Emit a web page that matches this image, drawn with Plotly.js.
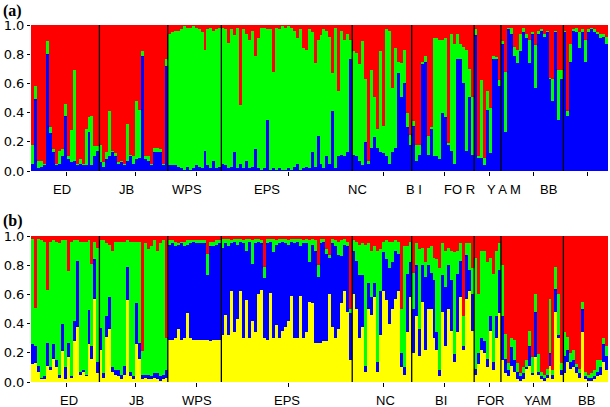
<!DOCTYPE html>
<html><head><meta charset="utf-8">
<script src="https://cdn.plot.ly/plotly-3.0.1.min.js"></script>
<style>html,body{margin:0;padding:0;background:#fff}#chart{width:610px;height:407px}</style>
</head><body><div id="chart"></div>
<script>
// Populations (order along the x axis) and number of individuals in each
const popNames = ['ED','JB','WPS','EPS','NC','BI','FOR','YAM','BB'];
const popSizes = [23,23,18,44,20,21,9,21,15];
const popLabelsA = ['ED','JB','WPS','EPS','NC','B I','FO R','Y A M','BB'];
const popLabelsB = ['ED','JB','WPS','EPS','NC','BI','FOR','YAM','BB'];
const yTickVals = [0,0.2,0.4,0.6,0.8,1.0];
const yTickText = ['0.0','0.2','0.4','0.6','0.8','1.0'];

// Panel (a): K = 3 membership coefficients per individual
const aBlue = [
 .05,.49,.02,.03,.04,.80,.26,.13,.04,.05,.10,.38,.08,.06,.07,.04,.05,.04,.04,.27,.04,.10,.14,
 .06,.03,.08,.10,.13,.10,.05,.06,.04,.07,.10,.05,.08,.09,.79,.08,.07,.04,.13,.13,.13,.04,.72,
 .04,.04,.04,.03,.02,.01,.03,.01,.02,.04,.03,.02,.14,.04,.02,.07,.02,.03,
 .05,.04,.02,.03,.13,.02,.05,.02,.07,.02,.03,.15,.02,.01,.02,.35,.01,.02,.01,.02,.01,.01,.02,.01,.03,.05,.01,.02,.03,.02,.13,.03,.24,.05,.02,.10,.05,.41,.02,.10,.11,.10,.13,.77,
 .11,.10,.07,.04,.20,.05,.16,.23,.16,.13,.12,.10,.05,.13,.16,.67,.51,.60,.30,.18,
 .31,.07,.11,.73,.75,.11,.29,.10,.10,.08,.40,.37,.18,.14,.05,.77,.77,.60,.14,.51,.11,
 .93,.09,.09,.04,.42,.12,.77,.77,.58,
 .87,.27,.97,.94,.79,.74,.82,.95,.91,.74,.94,.57,.94,.96,.92,.95,.63,.48,.95,.35,.63,
 .95,.38,.75,.96,.95,.84,.95,.75,.95,.97,.95,.94,.91,.92,.87
];
const aGreen = [
 .13,.09,.05,.04,.01,.09,.04,.02,.01,.09,.05,.08,.02,.22,.62,.01,.03,.01,.25,.10,.34,.07,.03,
 .12,.03,.05,.31,.01,.02,.01,.01,.01,.25,.01,.05,.40,.33,.03,.02,.03,.01,.03,.03,.02,.01,.05,
 .90,.91,.92,.93,.95,.98,.95,.97,.97,.94,.94,.93,.69,.93,.96,.89,.95,.95,
 .93,.93,.86,.94,.80,.96,.40,.95,.87,.88,.93,.64,.89,.97,.96,.62,.96,.66,.97,.95,.98,.97,.97,.97,.93,.86,.96,.82,.80,.95,.82,.71,.66,.88,.95,.86,.87,.26,.96,.45,.85,.80,.81,.13,
 .71,.71,.66,.85,.43,.02,.53,.28,.13,.69,.19,.87,.91,.44,.68,.08,.23,.23,.10,.07,
 .03,.11,.07,.02,.04,.13,.01,.81,.81,.82,.50,.54,.01,.80,.82,.17,.10,.25,.69,.19,.40,
 .04,.01,.53,.05,.13,.31,.02,.01,.04,
 .02,.41,.01,.04,.06,.09,.12,.03,.03,.16,.01,.29,.02,.01,.02,.01,.01,.15,.01,.34,.06,
 .01,.03,.12,.01,.03,.11,.02,.15,.02,.01,.02,.01,.03,.02,.05
];
const aRed = [
 .82,.42,.93,.93,.95,.11,.70,.85,.95,.86,.85,.54,.90,.72,.31,.95,.92,.95,.71,.63,.62,.83,.83,
 .82,.94,.87,.59,.86,.88,.94,.93,.95,.68,.89,.90,.52,.58,.18,.90,.90,.95,.84,.84,.85,.95,.23,
 .06,.05,.04,.04,.03,.01,.02,.02,.01,.02,.03,.05,.17,.03,.02,.04,.03,.02,
 .02,.03,.12,.03,.07,.02,.55,.03,.06,.10,.04,.21,.09,.02,.02,.03,.03,.32,.02,.03,.01,.02,.01,.02,.04,.09,.03,.16,.17,.03,.05,.26,.10,.07,.03,.04,.08,.33,.02,.45,.04,.10,.06,.10,
 .18,.19,.27,.11,.37,.93,.31,.49,.71,.18,.69,.03,.04,.43,.16,.25,.26,.17,.60,.75,
 .66,.82,.82,.25,.21,.76,.70,.09,.09,.10,.10,.09,.81,.06,.13,.06,.13,.15,.17,.30,.49,
 .03,.90,.38,.91,.45,.57,.21,.22,.38,
 .11,.32,.02,.02,.15,.17,.06,.02,.06,.10,.05,.14,.04,.03,.06,.04,.36,.37,.04,.31,.31,
 .04,.59,.13,.03,.02,.05,.03,.10,.03,.02,.03,.05,.06,.06,.08
];

// Panel (b): K = 4 membership coefficients per individual
const bYellow = [
 .12,.13,.07,.02,.02,.11,.08,.16,.10,.03,.21,.02,.17,.03,.28,.38,.05,.07,.04,.26,.16,.57,.06,
 .22,.03,.31,.36,.07,.05,.04,.02,.05,.56,.04,.02,.26,.16,.02,.03,.02,.02,.03,.02,.01,.02,.03,
 .29,.29,.30,.36,.29,.30,.47,.30,.29,.29,.29,.29,.29,.29,.28,.29,.29,.29,
 .32,.46,.32,.62,.34,.43,.62,.30,.56,.30,.42,.34,.60,.63,.30,.29,.61,.30,.39,.30,.35,.38,.42,.59,.30,.30,.59,.30,.34,.55,.54,.27,.27,.27,.28,.28,.60,.38,.30,.36,.54,.62,.48,.15,
 .60,.50,.30,.38,.07,.50,.46,.58,.07,.32,.62,.56,.40,.50,.57,.62,.10,.05,.34,.58,
 .20,.45,.18,.55,.22,.50,.50,.30,.22,.04,.48,.25,.50,.35,.14,.34,.58,.22,.57,.62,.35,
 .05,.12,.22,.20,.10,.35,.08,.30,.47,
 .15,.06,.04,.11,.07,.02,.01,.02,.09,.11,.05,.17,.05,.02,.01,.03,.11,.02,.48,.30,.05,
 .06,.14,.09,.10,.06,.03,.34,.02,.01,.01,.02,.04,.05,.14,.08
];
const bBlue = [
 .14,.12,.04,.01,.02,.16,.02,.10,.05,.02,.19,.08,.10,.01,.14,.45,.02,.01,.01,.23,.09,.27,.08,
 .15,.03,.14,.22,.03,.03,.04,.03,.06,.23,.03,.02,.28,.11,.03,.02,.03,.02,.03,.04,.03,.03,.05,
 .65,.66,.63,.58,.66,.63,.47,.65,.67,.66,.66,.66,.66,.44,.65,.64,.65,.66,
 .60,.49,.61,.33,.62,.51,.34,.65,.34,.66,.39,.61,.36,.32,.41,.66,.35,.59,.55,.65,.61,.57,.52,.37,.65,.66,.34,.65,.61,.27,.40,.63,.45,.68,.68,.60,.25,.57,.63,.51,.32,.32,.45,.32,
 .30,.33,.43,.35,.04,.18,.12,.10,.07,.30,.27,.28,.38,.32,.33,.26,.10,.05,.40,.24,
 .30,.35,.18,.25,.50,.30,.25,.40,.12,.04,.25,.40,.30,.35,.05,.40,.25,.03,.30,.15,.25,
 .04,.08,.08,.08,.06,.10,.06,.15,.30,
 .30,.10,.04,.13,.08,.05,.03,.04,.01,.14,.01,.31,.02,.02,.02,.02,.09,.03,.16,.02,.03,
 .12,.08,.05,.05,.04,.03,.16,.02,.02,.02,.02,.03,.05,.12,.10
];
const bGreen = [
 .72,.26,.87,.94,.92,.36,.86,.71,.81,.90,.57,.87,.49,.92,.55,.14,.89,.88,.91,.48,.56,.12,.78,
 .60,.91,.50,.36,.80,.88,.88,.91,.85,.18,.89,.92,.42,.69,.16,.90,.86,.89,.91,.84,.91,.92,.22,
 .03,.02,.03,.01,.01,.03,.03,.02,.01,.02,.02,.02,.02,.15,.03,.03,.03,.02,
 .06,.03,.05,.02,.02,.04,.02,.02,.08,.02,.16,.03,.02,.02,.08,.03,.02,.09,.03,.03,.02,.03,.03,.02,.03,.02,.05,.02,.03,.15,.04,.07,.08,.03,.02,.03,.02,.03,.04,.09,.11,.04,.03,.03,
 .07,.13,.21,.22,.83,.27,.32,.25,.76,.29,.07,.13,.18,.14,.07,.08,.30,.83,.19,.14,
 .25,.15,.55,.12,.10,.12,.18,.15,.50,.70,.22,.25,.12,.20,.70,.16,.12,.20,.08,.18,.18,
 .76,.40,.60,.62,.66,.40,.60,.45,.18,
 .35,.17,.05,.06,.14,.06,.02,.04,.05,.10,.11,.12,.12,.03,.02,.04,.37,.03,.15,.28,.05,
 .16,.09,.06,.07,.02,.03,.05,.03,.02,.03,.04,.08,.05,.04,.07
];
const bRed = [
 .02,.49,.02,.03,.04,.37,.04,.03,.04,.05,.03,.03,.24,.04,.03,.03,.04,.04,.04,.03,.19,.04,.08,
 .03,.03,.05,.06,.10,.04,.04,.04,.04,.03,.04,.04,.04,.04,.79,.05,.09,.07,.03,.10,.05,.03,.70,
 .03,.03,.04,.05,.04,.04,.03,.03,.03,.03,.03,.03,.03,.12,.04,.04,.03,.03,
 .02,.02,.02,.03,.02,.02,.02,.03,.02,.02,.03,.02,.02,.03,.21,.02,.02,.02,.03,.02,.02,.02,.03,.02,.02,.02,.02,.03,.02,.03,.02,.03,.20,.02,.02,.09,.13,.02,.03,.04,.03,.02,.04,.50,
 .03,.04,.06,.05,.06,.05,.10,.07,.10,.09,.04,.03,.04,.04,.03,.04,.50,.07,.07,.04,
 .25,.05,.09,.08,.18,.08,.07,.15,.16,.22,.05,.10,.08,.10,.11,.10,.05,.55,.05,.05,.22,
 .15,.40,.10,.10,.18,.15,.26,.10,.05,
 .20,.67,.87,.70,.71,.87,.94,.90,.85,.65,.83,.40,.81,.93,.95,.91,.43,.92,.21,.40,.87,
 .66,.69,.80,.78,.88,.91,.45,.93,.95,.94,.92,.85,.85,.70,.75
];

// ---- build ----
const ids = aBlue.map((_, i) => i);
const RED = '#ff0000', GREEN = '#00ff00', BLUE = '#0000ff', YELLOW = '#ffff00';
function bar(y, color, xa, ya) {
  return {type:'bar', x: ids, y: y, xaxis: xa, yaxis: ya, width: 1,
          marker: {color: color, line: {width: 0}}, hoverinfo: 'skip', showlegend: false};
}
const traces = [
  bar(aBlue, BLUE, 'x', 'y'), bar(aGreen, GREEN, 'x', 'y'), bar(aRed, RED, 'x', 'y'),
  bar(bYellow, YELLOW, 'x2', 'y2'), bar(bBlue, BLUE, 'x2', 'y2'), bar(bGreen, GREEN, 'x2', 'y2'), bar(bRed, RED, 'x2', 'y2')
];

// population boundaries and centres
const starts = [];
let acc = 0;
popSizes.forEach(n => { starts.push(acc); acc += n; });
const centres = popSizes.map((n, i) => starts[i] + n / 2);
const bounds = starts.slice(1).map(s => s - 0.5);

const W = 610, H = 407;
const px = v => v / W, py = v => (H - v) / H;
const xDom = [px(31), px(608)];
const N = ids.length;

function xAxis(anchor) {
  return {domain: xDom, range: [-0.5, N - 0.5], anchor: anchor, showgrid: false, zeroline: false,
          showline: false, tickvals: centres, ticktext: centres.map(() => ''), ticks: 'outside',
          ticklen: 4, tickwidth: 1, tickcolor: '#000', fixedrange: true};
}
function yAxis(anchor, dom) {
  return {domain: dom, range: [0, 1], anchor: anchor, showgrid: false, zeroline: false, showline: false,
          tickvals: yTickVals, ticktext: yTickText, ticks: 'outside', ticklen: 3, tickcolor: '#000',
          tickfont: {family: 'DejaVu Sans', size: 13, color: '#000'}, fixedrange: true};
}

const shapes = [];
bounds.forEach(b => {
  shapes.push({type: 'line', xref: 'x', yref: 'y domain', x0: b, x1: b, y0: 0, y1: 1, line: {color: '#000', width: 1.3}});
  shapes.push({type: 'line', xref: 'x2', yref: 'y2 domain', x0: b, x1: b, y0: 0, y1: 1, line: {color: '#000', width: 1.3}});
});

const labelXA = [62, 126, 187, 267, 357, 414, 460, 504, 548];
const labelXB = [69, 136, 197, 287, 385, 441, 490, 537, 586];
const annotations = [];
popLabelsA.forEach((t, i) => annotations.push({text: t, xref: 'paper', yref: 'paper', x: px(labelXA[i]), y: py(189),
  xanchor: 'center', yanchor: 'middle', showarrow: false, font: {family: 'Liberation Sans, Arial', size: 13, color: '#000'}}));
popLabelsB.forEach((t, i) => annotations.push({text: t, xref: 'paper', yref: 'paper', x: px(labelXB[i]), y: py(400),
  xanchor: 'center', yanchor: 'middle', showarrow: false, font: {family: 'Liberation Sans, Arial', size: 13, color: '#000'}}));
annotations.push({text: '<b>(a)</b>', xref: 'paper', yref: 'paper', x: px(1), y: py(11), xanchor: 'left', yanchor: 'middle',
  showarrow: false, font: {family: 'Liberation Serif, Times New Roman', size: 16, color: '#000'}});
annotations.push({text: '<b>(b)</b>', xref: 'paper', yref: 'paper', x: px(1), y: py(221), xanchor: 'left', yanchor: 'middle',
  showarrow: false, font: {family: 'Liberation Serif, Times New Roman', size: 16, color: '#000'}});

const layout = {
  width: W, height: H, margin: {l: 0, r: 0, t: 0, b: 0}, paper_bgcolor: '#fff', plot_bgcolor: '#fff',
  barmode: 'stack', bargap: 0, showlegend: false,
  xaxis: xAxis('y'), yaxis: yAxis('x', [py(171), py(25)]),
  xaxis2: xAxis('y2'), yaxis2: yAxis('x2', [py(382), py(236)]),
  shapes: shapes, annotations: annotations
};
Plotly.newPlot('chart', traces, layout, {staticPlot: true, displayModeBar: false});
</script></body></html>
